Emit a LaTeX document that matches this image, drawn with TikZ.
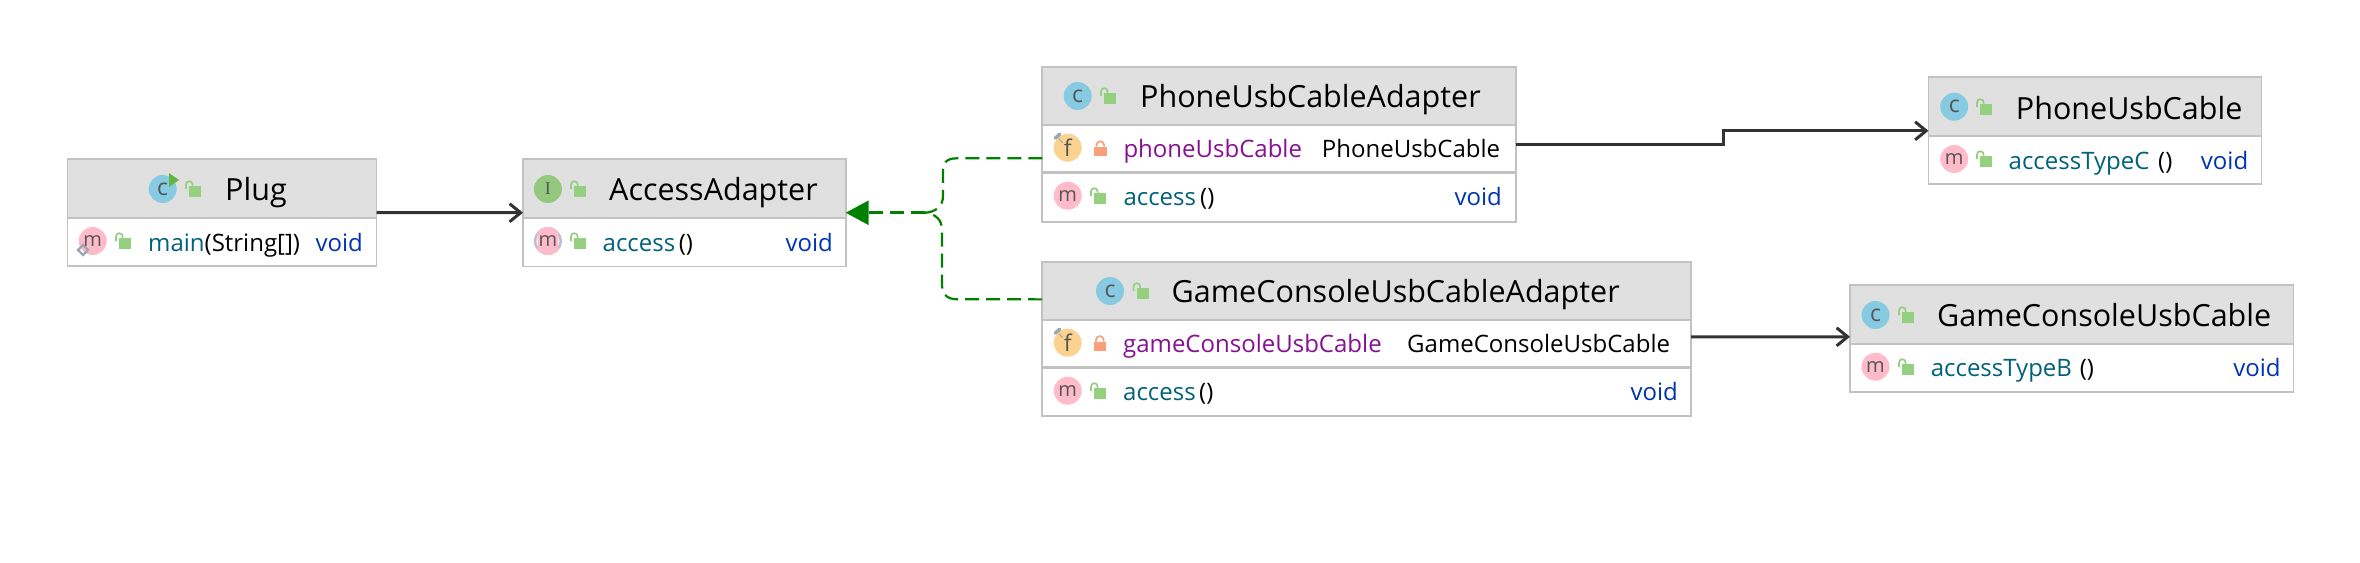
\documentclass[tikz,border=0pt]{standalone}
\usepackage{fontspec}
\setmainfont{Open Sans}
\newfontfamily\serifletter{Liberation Serif}
\usetikzlibrary{arrows.meta,calc}
\definecolor{hdr}{HTML}{E0E0E0}
\definecolor{bdr}{HTML}{C2C2C2}
\definecolor{icoC}{HTML}{87CBE3}
\definecolor{icoM}{HTML}{FFBBC9}
\definecolor{icoF}{HTML}{FBD28F}
\definecolor{icoI}{HTML}{95C87F}
\definecolor{lockG}{HTML}{95D080}
\definecolor{lockR}{HTML}{F9A07A}
\definecolor{mth}{HTML}{00627A}
\definecolor{fld}{HTML}{871094}
\definecolor{kw}{HTML}{0033B3}
\definecolor{ltr}{HTML}{555555}
\definecolor{grn}{HTML}{008000}
\definecolor{dark}{HTML}{333333}
\definecolor{pinc}{HTML}{9AA7B0}
\definecolor{runc}{HTML}{62B543}
\tikzset{
  boxbase/.style={rectangle,inner sep=0,outer sep=0,draw=bdr,line width=1.8pt},
  classbox/.style={boxbase,fill=white},
  headbox/.style={boxbase,fill=hdr},
  divider/.style={draw=bdr,line width=2.6pt},
  titletext/.style={anchor=base west,inner sep=0,font=\fontsize{30.5}{36}\selectfont,text=black},
  rowtext/.style={anchor=base west,inner sep=0,font=\fontsize{24}{29}\selectfont,text=black},
  methodname/.style={rowtext,text=mth},
  fieldname/.style={rowtext,text=fld},
  rettype/.style={rowtext,anchor=base east,text=kw},
  icon/.style={circle,inner sep=0,minimum size=28pt,text=ltr,font=\fontsize{23}{23}\selectfont},
  iconc/.style={icon,fill=icoC},
  iconm/.style={icon,fill=icoM,font=\fontsize{20}{20}\selectfont},
  iconf/.style={icon,fill=icoF},
  iconi/.style={icon,fill=icoI,font=\fontsize{18}{18}\serifletter},
  assoc/.style={draw=dark,line width=3pt,-{Straight Barb[length=11pt,width=18pt,line width=3pt]}},
  impl/.style={draw=grn,line width=2.2pt,dash pattern=on 14pt off 7pt},
}
% name x1 y1 x2 y2 yhead
\newcommand{\classnode}[6]{%
  \node[classbox,minimum width={(#4-#2)*1pt},minimum height={(#5-#3)*1pt}] (#1) at ({(#2+#4)/2},{(#3+#5)/2}) {};
  \node[headbox,minimum width={(#4-#2)*1pt},minimum height={(#6-#3)*1pt}] (#1-head) at ({(#2+#4)/2},{(#3+#6)/2}) {};
}
% open lock: left, top
\newcommand{\lockopen}[2]{%
  \fill[lockG] (#1+4,#2+5) rectangle (#1+16,#2+15.5);
  \draw[lockG,line width=1.7pt] (#1+1,#2+8) -- (#1+1,#2+3.5) arc[start angle=180,end angle=0,radius=3.3,y radius=-3.3] -- (#1+7.6,#2+5);
}
% closed lock: left, top
\newcommand{\lockshut}[2]{%
  \fill[lockR] (#1,#2+6) rectangle (#1+12.5,#2+15.5);
  \draw[lockR,line width=1.7pt] (#1+2.4,#2+6) -- (#1+2.4,#2+4.4) arc[start angle=180,end angle=0,radius=3.85,y radius=-3.85] -- (#1+10.1,#2+6);
}
% field pin: centre of field icon
\newcommand{\fieldpin}[2]{%
  \draw[pinc,line width=3.4pt,line cap=round] (#1-12.5,#2-9.5) -- (#1-8,#2-13.5);
  \draw[pinc,line width=1pt] (#1-9,#2-9) -- (#1-5,#2-5);
}
\begin{document}
\begin{tikzpicture}[x=1pt,y=-1pt]
\useasboundingbox (0,0) rectangle (2360,562);
\fill[white] (0,0) rectangle (2360,562);

% Plug
\classnode{plug}{67.5}{159}{376.5}{266}{218}
\node[iconc] (plug-ic) at (162.7,189) {c};
\fill[runc] (169,173) -- (179,180) -- (169,187) -- cycle;
\lockopen{185}{181}
\node[titletext] (plug-t) at (225,200.7) {Plug};
\node[iconm] (plug-m) at (92.7,241) {m};
\draw[pinc,line width=2.2pt] (83,245) -- (88,250) -- (83,255) -- (78,250) -- cycle;
\lockopen{115}{233}
\node[methodname] (plug-n) at (148,251.7) {main\textcolor{black}{(String[])}};
\node[rettype] (plug-v) at (363,251.7) {void};

% AccessAdapter
\classnode{accessadapter}{523}{159}{845.7}{266.5}{218}
\node[iconi] (aa-ic) at (547.9,189) {I};
\lockopen{570}{181}
\node[titletext] (aa-t) at (609,200.7) {AccessAdapter};
\fill[pinc!70] (547.9,241) circle (14);
\fill[white] (547.9,241) circle (11.5);
\begin{scope}
\clip (537.5,225) rectangle (558.3,257);
\node[iconm] (aa-m) at (547.9,241) {m};
\end{scope}
\lockopen{570}{233}
\node[methodname] (aa-n) at (602.5,251.7) {access};
\node[rowtext] (aa-p) at (678.6,251.7) {()};
\node[rettype] (aa-v) at (833,251.7) {void};

% PhoneUsbCableAdapter
\classnode{phoneadapter}{1042.3}{66.7}{1515.7}{221.7}{125}
\draw[divider] (phoneadapter.west |- 0,172.7) -- (phoneadapter.east |- 0,172.7);
\node[iconc] (pa-ic) at (1077.7,96) {c};
\lockopen{1100}{88}
\node[titletext] (pa-t) at (1140,107.5) {PhoneUsbCableAdapter};
\node[iconf] (pa-f) at (1067.7,147.7) {f};
\fieldpin{1067.7}{147.7}
\lockshut{1094}{140.7}
\node[fieldname] (pa-fn) at (1123.3,157.3) {phoneUsbCable};
\node[rowtext] (pa-ft) at (1321.7,157.3) {PhoneUsbCable};
\node[iconm] (pa-m) at (1067.7,195.7) {m};
\lockopen{1090}{188}
\node[methodname] (pa-n) at (1123.3,205) {access};
\node[rowtext] (pa-p) at (1200,205) {()};
\node[rettype] (pa-v) at (1502,205) {void};

% GameConsoleUsbCableAdapter
\classnode{gameadapter}{1042}{261.7}{1691}{416}{320}
\draw[divider] (gameadapter.west |- 0,367.3) -- (gameadapter.east |- 0,367.3);
\node[iconc] (ga-ic) at (1110,291) {c};
\lockopen{1132.5}{283}
\node[titletext] (ga-t) at (1171.5,302.3) {GameConsoleUsbCableAdapter};
\node[iconf] (ga-f) at (1067.7,342.7) {f};
\fieldpin{1067.7}{342.7}
\lockshut{1093.5}{335.5}
\node[fieldname] (ga-fn) at (1123,352.3) {gameConsoleUsbCable};
\node[rowtext] (ga-ft) at (1407,352.3) {GameConsoleUsbCable};
\node[iconm] (ga-m) at (1067.7,390.7) {m};
\lockopen{1090}{383}
\node[methodname] (ga-n) at (1123,400) {access};
\node[rowtext] (ga-p) at (1199,400) {()};
\node[rettype] (ga-v) at (1678,400) {void};

% PhoneUsbCable
\classnode{phonecable}{1928.5}{77.3}{2261.5}{184.3}{136}
\node[iconc] (pc-ic) at (1954.2,106.7) {c};
\lockopen{1976}{99}
\node[titletext] (pc-t) at (2015.7,119) {PhoneUsbCable};
\node[iconm] (pc-m) at (1954.2,159) {m};
\lockopen{1976}{151}
\node[methodname] (pc-n) at (2008.5,169) {accessTypeC};
\node[rowtext] (pc-p) at (2158,169) {()};
\node[rettype] (pc-v) at (2248.4,169) {void};

% GameConsoleUsbCable
\classnode{gamecable}{1850}{285.3}{2293.4}{392.3}{344}
\node[iconc] (gc-ic) at (1875.5,315) {c};
\lockopen{1898}{307}
\node[titletext] (gc-t) at (1937,326.7) {GameConsoleUsbCable};
\node[iconm] (gc-m) at (1875.5,366.7) {m};
\lockopen{1898}{359}
\node[methodname] (gc-n) at (1930.6,376.7) {accessTypeB};
\node[rowtext] (gc-p) at (2079.6,376.7) {()};
\node[rettype] (gc-v) at (2280.8,376.7) {void};

% Connectors
\draw[assoc] (plug.east) -- (accessadapter.west);
\draw[assoc] (phoneadapter.east) -- (1723,144.2) -- (1723,130.8) -- (phonecable.west);
\draw[assoc] ([yshift=2pt]gameadapter.east) -- ([yshift=2pt]gamecable.west);
\coordinate (junction) at (925,212.75);
\draw[impl] ([yshift=-14.1pt]phoneadapter.west) -- (957,158.3) .. controls (945,158.3) and (943,164) .. (943,172) -- (943,196) .. controls (943,206) and (936,212) .. (junction);
\draw[impl] ([yshift=39.5pt]gameadapter.west) -- (957,299.3) .. controls (945,299.3) and (942,292) .. (942,284) -- (942,230) .. controls (942,220) and (936,214) .. (junction);
\draw[impl,line width=3pt,-{Triangle[length=23pt,width=24pt,fill=grn]}] (junction) -- (accessadapter.east);
\end{tikzpicture}
\end{document}
